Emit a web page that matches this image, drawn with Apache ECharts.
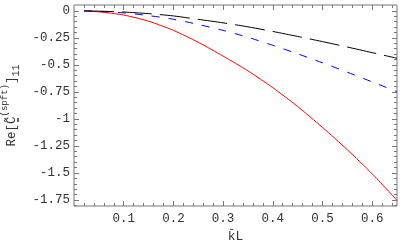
<!DOCTYPE html>
<html>
<head>
<meta charset="utf-8">
<script src="https://cdn.jsdelivr.net/npm/echarts@6/dist/echarts.min.js"></script>
<style>html,body{margin:0;padding:0;background:#fff}#c{width:400px;height:247px}</style>
</head>
<body>
<div id="c"></div>
<script>
var kL = [0.02, 0.05, 0.1, 0.15, 0.2, 0.25, 0.3, 0.35, 0.4, 0.45, 0.5, 0.55, 0.6, 0.65];
var redVals = [0, -0.008, -0.038, -0.095, -0.18, -0.29, -0.418, -0.555, -0.71, -0.885, -1.078, -1.285, -1.508, -1.753];
var blueVals = [0, -0.004, -0.018, -0.043, -0.077, -0.125, -0.18, -0.244, -0.318, -0.397, -0.48, -0.567, -0.657, -0.747];
var blackVals = [0, -0.002, -0.01, -0.025, -0.046, -0.078, -0.11, -0.147, -0.19, -0.236, -0.284, -0.334, -0.386, -0.438];
var yMajor = [0, -0.25, -0.5, -0.75, -1, -1.25, -1.5, -1.75];
var yLabels = ['0', '-0.25', '-0.5', '-0.75', '-1', '-1.25', '-1.5', '-1.75'];
var xMajor = [0.1, 0.2, 0.3, 0.4, 0.5, 0.6];
var xLabels = ['0.1', '0.2', '0.3', '0.4', '0.5', '0.6'];
var yMinor = [];
for (var i = 1; i <= 36; i++) { yMinor.push(-i * 5 / 100); }
var xMinor = [];
for (var j = 1; j <= 32; j++) { xMinor.push(j * 2 / 100); }

function pairs(vals) { return kL.map(function (x, i) { return [x, vals[i]]; }); }

var FONT = 'Liberation Mono';
var FRAME = '#777';
var TXT = '#333';
var chart = echarts.init(document.getElementById('c'), null, {renderer: 'canvas'});

function xAx(pos, labels, minor) {
  return {
    type: 'value', position: pos, min: 0, max: 0.65,
    name: labels ? 'k\u0304L' : '', nameLocation: 'middle', nameGap: 23,
    nameTextStyle: {fontFamily: FONT, fontSize: 13, color: TXT},
    axisLine: {show: false, onZero: false},
    axisTick: {show: true, inside: true, length: minor ? 3 : 5, lineStyle: {color: FRAME},
      customValues: minor ? xMinor : xMajor},
    splitLine: {show: false},
    axisLabel: {show: labels, fontFamily: FONT, fontSize: 12.5, color: TXT, margin: 6,
      customValues: xMajor,
      formatter: function (v) { var k = xMajor.indexOf(Math.round(v * 100) / 100); return k >= 0 ? xLabels[k] : ''; }}
  };
}
function yAx(pos, labels, minor) {
  return {
    type: 'value', position: pos, min: -1.806, max: 0.055,
    name: labels ? '{a|Re[}{b|C\u0303\u0333}{c|(spft)}{a|]}{d|11}' : '',
    nameLocation: 'middle', nameGap: 50, nameRotate: 90,
    nameTextStyle: {fontFamily: FONT, fontSize: 12, color: TXT,
      rich: {
        a: {fontFamily: FONT, fontSize: 12.5, color: TXT, lineHeight: 18, verticalAlign: 'bottom'},
        b: {fontFamily: FONT, fontSize: 12.5, color: TXT, lineHeight: 18, verticalAlign: 'bottom'},
        c: {fontFamily: FONT, fontSize: 9, color: TXT, verticalAlign: 'top', lineHeight: 10},
        d: {fontFamily: FONT, fontSize: 10, color: TXT, verticalAlign: 'bottom', lineHeight: 10, padding: [0, 0, -3, 0]}
      }},
    axisLine: {show: false, onZero: false},
    axisTick: {show: true, inside: true, length: minor ? 3 : 5, lineStyle: {color: FRAME},
      customValues: minor ? yMinor : yMajor},
    splitLine: {show: false},
    axisLabel: {show: labels, fontFamily: FONT, fontSize: 12.5, color: TXT, margin: 4,
      customValues: yMajor,
      formatter: function (v) { var k = yMajor.indexOf(Math.round(v * 100) / 100); return k >= 0 ? yLabels[k] : ''; }}
  };
}
function dummy(xi, yi) {
  return {type: 'line', xAxisIndex: xi, yAxisIndex: yi, data: [[0.3, -0.5]], showSymbol: false,
    symbol: 'none', lineStyle: {opacity: 0}, silent: true};
}

chart.setOption({
  animation: false,
  backgroundColor: '#fff',
  grid: {left: 74, right: 3, top: 5, bottom: 41, containLabel: false, outerBoundsMode: 'none',
    show: true, borderColor: FRAME, borderWidth: 1, backgroundColor: 'transparent'},
  xAxis: [xAx('bottom', true, false), xAx('top', false, false), xAx('bottom', false, true), xAx('top', false, true)],
  yAxis: [yAx('left', true, false), yAx('right', false, false), yAx('left', false, true), yAx('right', false, true)],
  series: [
    {type: 'line', data: pairs(redVals), smooth: 0.25, showSymbol: false, symbol: 'none',
      lineStyle: {color: '#ff0000', width: 1}},
    {type: 'line', data: pairs(blueVals), smooth: 0.25, showSymbol: false, symbol: 'none',
      lineStyle: {color: '#0000ff', width: 1, type: [8, 9]}},
    {type: 'line', data: pairs(blackVals), smooth: 0.25, showSymbol: false, symbol: 'none',
      lineStyle: {color: '#000000', width: 1, type: [30, 8]}},
    dummy(1, 1), dummy(2, 2), dummy(3, 3)
  ]
});
</script>
</body>
</html>
